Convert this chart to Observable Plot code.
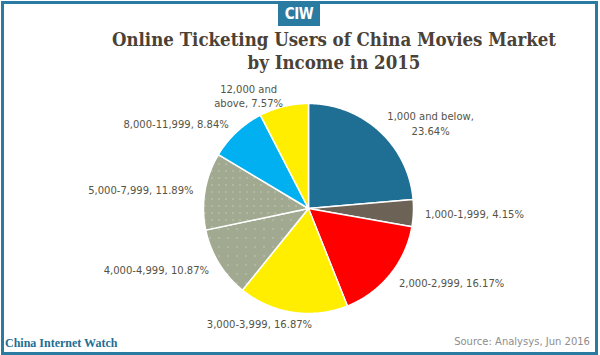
<!DOCTYPE html>
<html><head><meta charset="utf-8">
<script src="https://cdn.jsdelivr.net/npm/d3@7"></script>
<script src="https://cdn.jsdelivr.net/npm/@observablehq/plot@0.6"></script>
<style>
html,body{margin:0;padding:0;background:#fff;}
#wrap{position:relative;width:600px;height:355px;overflow:hidden;background:#fff;}
#chart{position:absolute;left:0;top:0;}
#frame{position:absolute;left:1px;top:1px;width:591px;height:348px;border:3px solid #2a7ba1;}
#logo{position:absolute;left:278px;top:1px;width:42px;height:25px;background:#2a7ba1;color:#fff;
  font:bold 15px/26px "DejaVu Sans Condensed","DejaVu Sans",sans-serif;text-align:center;letter-spacing:-0.5px;}
#title{position:absolute;left:34px;top:28px;width:600px;text-align:center;color:#4b4237;
  font:bold 18.5px/23px "DejaVu Serif Condensed","DejaVu Serif",serif;}
#brand{position:absolute;left:5px;top:336px;color:#1f6e93;font:bold 12px "Liberation Serif",serif;}
#source{position:absolute;right:10px;top:336px;color:#8e8e8e;font:10px "DejaVu Sans",sans-serif;}
</style></head>
<body>
<svg width="0" height="0" style="position:absolute">
<defs>
<pattern id="patDark" width="2" height="2" patternUnits="userSpaceOnUse">
<rect width="2" height="2" fill="#574e43"/><rect width="1" height="1" fill="#aaa190"/>
</pattern>
<pattern id="patGray1" width="9" height="9" patternUnits="userSpaceOnUse">
<rect width="9" height="9" fill="#a1a991"/><rect x="2" y="3" width="1" height="1" fill="#dfe3d2"/>
</pattern>
<pattern id="patGray2" width="7" height="7" patternUnits="userSpaceOnUse">
<rect width="7" height="7" fill="#a1a991"/><rect x="1" y="2" width="1" height="1" fill="#dfe3d2"/>
</pattern>
</defs>
</svg>
<div id="wrap">
<div id="chart"></div>
<div id="frame"></div>
<div id="logo">CIW</div>
<div id="title">Online Ticketing Users of China Movies Market<br>by Income in 2015</div>
<div id="brand">China Internet Watch</div>
<div id="source">Source: Analysys, Jun 2016</div>
</div>
<script>
const categories = ["1,000 and below","1,000-1,999","2,000-2,999","3,000-3,999","4,000-4,999","5,000-7,999","8,000-11,999","12,000 and above"];
const shares = [23.64, 4.15, 16.17, 16.87, 10.87, 11.89, 8.84, 7.57];
const labels = ["1,000 and below,\n23.64%","1,000-1,999, 4.15%","2,000-2,999, 16.17%","3,000-3,999, 16.87%","4,000-4,999, 10.87%","5,000-7,999, 11.89%","8,000-11,999, 8.84%","12,000 and\nabove, 7.57%"];

const sliceFills = ["#1f6e93","url(#patDark)","#ff0000","#ffee00","url(#patGray1)","url(#patGray2)","#00b0f0","#ffee00"];

const R = 105, CX = 308, CY = 208, K = 1.11;
const FONT = "DejaVu Sans";
const arcs = d3.pie().sort(null).value(d => d)(shares);

const slices = arcs.map((a, i) => {
  const pts = [{x: 0, y: 0}];
  const n = Math.max(2, Math.ceil((a.endAngle - a.startAngle) / (Math.PI / 360)));
  for (let j = 0; j <= n; j++) {
    const t = a.startAngle + (a.endAngle - a.startAngle) * j / n;
    pts.push({x: Math.sin(t), y: Math.cos(t)});
  }
  pts.push({x: 0, y: 0});
  return {key: categories[i], pts};
});

const ctx = document.createElement("canvas").getContext("2d");
ctx.font = `10px "${FONT}"`;
const lab = arcs.map((a, i) => {
  const m = (a.startAngle + a.endAngle) / 2, s = Math.sin(m), c = Math.cos(m);
  const w = d3.max(labels[i].split("\n"), t => ctx.measureText(t).width);
  const shift = Math.sign(s) * Math.min(1, 4 * Math.abs(s)) * w / 2;
  return {text: labels[i], x: K * s + shift / R, y: K * c};
});

const plot = Plot.plot({
  width: 600, height: 355, margin: 0,
  style: {background: "transparent"},
  x: {domain: [-1, 1], range: [CX - R, CX + R], axis: null},
  y: {domain: [-1, 1], range: [CY + R, CY - R], axis: null},
  marks: [
    ...slices.map((s, i) => Plot.line(s.pts, {x: "x", y: "y", fill: sliceFills[i], stroke: "white", strokeWidth: 1.5, strokeLinejoin: "round"})),
    Plot.text(lab, {x: "x", y: "y", text: "text", textAnchor: "middle", lineAnchor: "middle", lineHeight: 1.45,
      fontSize: 10, fontFamily: FONT, fill: "#545446"})
  ]
});
document.getElementById("chart").appendChild(plot);
</script>
</body></html>
